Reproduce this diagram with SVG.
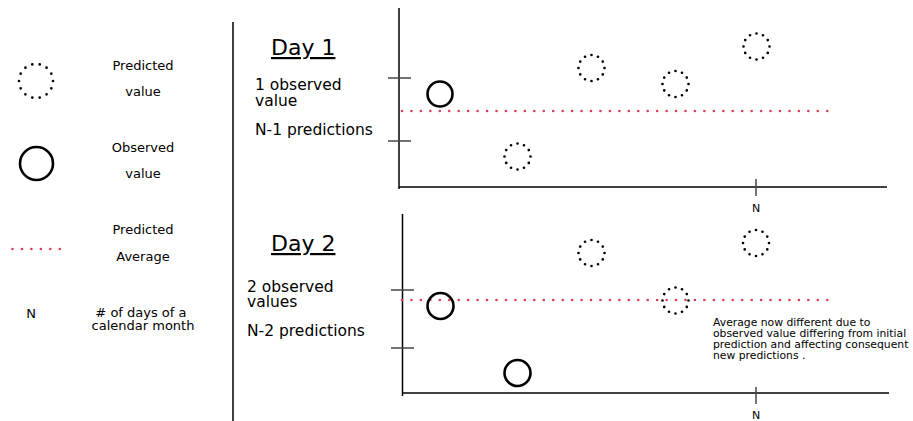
<svg xmlns="http://www.w3.org/2000/svg" width="913" height="421" viewBox="0 0 913 421">
  <style>
    text { font-family: "DejaVu Sans", "Liberation Sans", sans-serif; fill: #000; }
    .leg { font-size: 13px; text-anchor: middle; }
    .day { font-size: 22px; text-decoration: underline; }
    .note { font-size: 15.5px; }
    .small { font-size: 11px; }
    .ann { font-size: 10.8px; }
    .axis { stroke: #000; stroke-width: 1.5; fill: none; }
    .tick { stroke: #444; stroke-width: 1.5; fill: none; }
    .obs { stroke: #000; stroke-width: 2.6; fill: none; }
    .pred { stroke: #000; stroke-width: 2.7; fill: none; stroke-linecap: round; stroke-dasharray: 0 1; }
    .avg { stroke: #dc3c55; stroke-width: 2.6; fill: none; stroke-linecap: round; stroke-dasharray: 0 9.45; }
  </style>
  <rect width="913" height="421" fill="#fff"/>

  <!-- legend -->
  <g id="legend-predicted">
    <circle class="pred" cx="36" cy="81" r="17" pathLength="14"/>
    <text class="leg" x="143" y="70">Predicted</text>
    <text class="leg" x="143" y="96">value</text>
  </g>
  <g id="legend-observed">
    <circle class="obs" cx="36.5" cy="163.5" r="16.5"/>
    <text class="leg" x="143" y="152">Observed</text>
    <text class="leg" x="143" y="178">value</text>
  </g>
  <g id="legend-average">
    <line class="avg" x1="12.5" y1="249" x2="60" y2="249"/>
    <text class="leg" x="143" y="234">Predicted</text>
    <text class="leg" x="143" y="261">Average</text>
  </g>
  <g id="legend-n">
    <text class="leg" x="31" y="318">N</text>
    <text class="leg" x="143" y="317">
      <tspan x="143" y="317"># of days of a</tspan>
      <tspan x="143" y="330">calendar month</tspan>
    </text>
  </g>

  <!-- divider -->
  <line x1="233" y1="22" x2="233" y2="421" stroke="#000" stroke-width="1.5"/>

  <!-- day 1 panel -->
  <g id="day1-label">
    <text class="day" x="271" y="55">Day 1</text>
    <text class="note" x="255" y="90">1 observed</text>
    <text class="note" x="255" y="106">value</text>
    <text class="note" x="255" y="135">N-1 predictions</text>
  </g>
  <g id="day1-axes">
    <line class="axis" x1="399" y1="8" x2="399" y2="189"/>
    <line class="axis" x1="399" y1="187" x2="887" y2="187"/>
    <line class="tick" x1="388" y1="78" x2="411" y2="78"/>
    <line class="tick" x1="388" y1="141" x2="411" y2="141"/>
    <line class="tick" x1="756" y1="179" x2="756" y2="196"/>
    <text class="small" x="756" y="212" text-anchor="middle">N</text>
  </g>
  <g id="day1-average">
    <line class="avg" x1="402" y1="111" x2="830" y2="111"/>
  </g>
  <g id="day1-points">
    <circle class="obs" cx="440" cy="94" r="12.5"/>
    <circle class="pred" cx="517.5" cy="156.5" r="13" pathLength="12"/>
    <circle class="pred" cx="591.5" cy="68" r="13" pathLength="12"/>
    <circle class="pred" cx="675.5" cy="84" r="13" pathLength="12"/>
    <circle class="pred" cx="756.5" cy="46.5" r="13" pathLength="12"/>
  </g>

  <!-- day 2 panel -->
  <g id="day2-label">
    <text class="day" x="271" y="251">Day 2</text>
    <text class="note" x="247" y="292">2 observed</text>
    <text class="note" x="247" y="307">values</text>
    <text class="note" x="247" y="336">N-2 predictions</text>
  </g>
  <g id="day2-axes">
    <line class="axis" x1="402.5" y1="214" x2="402.5" y2="396"/>
    <line class="axis" x1="402.5" y1="393" x2="889" y2="393"/>
    <line class="tick" x1="391" y1="290" x2="414" y2="290"/>
    <line class="tick" x1="391" y1="348" x2="414" y2="348"/>
    <line class="tick" x1="756" y1="387" x2="756" y2="404"/>
    <text class="small" x="756" y="419" text-anchor="middle">N</text>
  </g>
  <g id="day2-average">
    <line class="avg" x1="402" y1="300" x2="830" y2="300"/>
  </g>
  <g id="day2-points">
    <circle class="obs" cx="440.5" cy="306" r="13"/>
    <circle class="obs" cx="517.5" cy="373" r="13"/>
    <circle class="pred" cx="591.5" cy="253" r="13" pathLength="12"/>
    <circle class="pred" cx="756" cy="243" r="13" pathLength="12"/>
    <circle class="pred" cx="675.5" cy="300.5" r="13" pathLength="12"/>
  </g>
  <g id="day2-annotation">
    <text class="ann" x="713" y="326">
      <tspan x="713" y="326">Average now different due to</tspan>
      <tspan x="713" y="337">observed value differing from initial</tspan>
      <tspan x="713" y="348">prediction and affecting consequent</tspan>
      <tspan x="713" y="359">new predictions .</tspan>
    </text>
  </g>
</svg>
